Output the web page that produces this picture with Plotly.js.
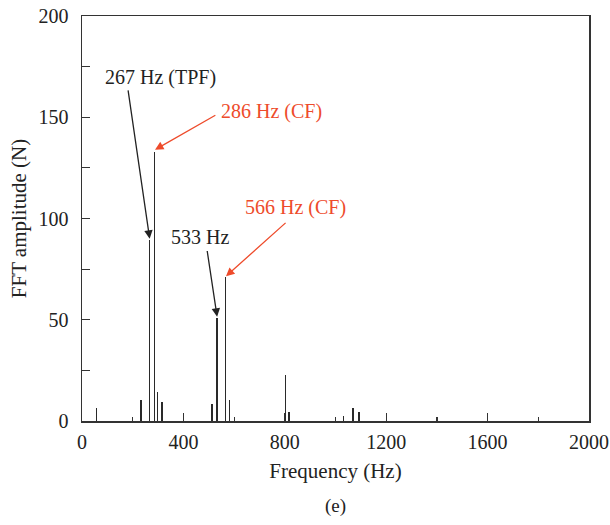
<!DOCTYPE html>
<html>
<head>
<meta charset="utf-8">
<script src="https://cdn.plot.ly/plotly-3.0.1.min.js"></script>
<style>html,body{margin:0;padding:0;background:#fff;}#chart{width:610px;height:525px;}</style>
</head>
<body>
<div id="chart"></div>
<script>
// Frequencies (Hz) and FFT amplitudes (N)
var freqs = [58, 233, 267, 286, 297, 315, 513, 533, 566, 582, 802, 817, 1032, 1068, 1093];
var amps  = [6.5, 10.5, 89.5, 133, 14.4, 9.5, 8.6, 51, 71, 10.5, 22.5, 4.5, 2.4, 6.5, 4.5];

var xTicks = [0, 400, 800, 1200, 1600, 2000];
var yTicks = [0, 50, 100, 150, 200];

// annotation labels: [text, x, y, color]
var labels = [
  ["267 Hz (TPF)", 308, 169.6, "#222222"],
  ["286 Hz (CF)", 749, 153, "#ee4b2b"],
  ["533 Hz", 465, 91, "#222222"],
  ["566 Hz (CF)", 844, 105.4, "#ee4b2b"]
];
// arrows: [tailX, tailY, headX, headY, color]
var arrows = [
  [181, 164, 267, 90, "#222222"],
  [532, 151.4, 288, 134, "#ee4b2b"],
  [493, 84.7, 533, 51.5, "#222222"],
  [809, 98.5, 568, 71.5, "#ee4b2b"]
];

var serif = "Liberation Serif, Times New Roman, serif";

var trace = {
  type: "bar",
  x: freqs,
  y: amps,
  width: 6,
  marker: {color: "#2a2a2a", line: {width: 0}},
  hoverinfo: "x+y"
};

var annotations = [];
labels.forEach(function(l){
  annotations.push({x: l[1], y: l[2], xref: "x", yref: "y", text: l[0], showarrow: false,
    font: {family: serif, size: 20, color: l[3]}});
});
arrows.forEach(function(a){
  annotations.push({x: a[2], y: a[3], ax: a[0], ay: a[1], xref: "x", yref: "y", axref: "x", ayref: "y",
    text: "", showarrow: true, arrowhead: 2, arrowsize: 1.3, arrowwidth: 1.3, arrowcolor: a[4], standoff: 0});
});
annotations.push({x: 0.5, y: -0.21, xref: "paper", yref: "paper", text: "(e)", showarrow: false,
  font: {family: serif, size: 19, color: "#222"}, yanchor: "middle"});

var axisCommon = {
  showgrid: false, zeroline: false, showline: true, linecolor: "#333", linewidth: 1.5, mirror: true,
  ticks: "inside", ticklen: 8, tickwidth: 1.3, tickcolor: "#333",
  tickfont: {family: serif, size: 20, color: "#222"}
};

var layout = {
  width: 610, height: 525,
  margin: {l: 82, r: 21, t: 16, b: 104},
  paper_bgcolor: "#fff", plot_bgcolor: "#fff",
  showlegend: false,
  bargap: 0,
  xaxis: Object.assign({}, axisCommon, {
    range: [0, 2000], tickvals: xTicks, ticktext: xTicks.map(String),
    minor: {ticks: "inside", dtick: 200, tick0: 0, ticklen: 4, tickwidth: 1.2, tickcolor: "#333"},
    ticklabelstandoff: 2,
    title: {text: "Frequency (Hz)", font: {family: serif, size: 21, color: "#222"}, standoff: 12}
  }),
  yaxis: Object.assign({}, axisCommon, {
    range: [0, 200], tickvals: yTicks, ticktext: yTicks.map(String),
    minor: {ticks: "inside", dtick: 25, tick0: 0, ticklen: 8, tickwidth: 1.2, tickcolor: "#333"},
    ticklabelstandoff: 8,
    title: {text: "FFT amplitude (N)", font: {family: serif, size: 21, color: "#222"}, standoff: 6}
  }),
  annotations: annotations
};

Plotly.newPlot("chart", [trace], layout, {displayModeBar: false, staticPlot: true});
</script>
</body>
</html>
